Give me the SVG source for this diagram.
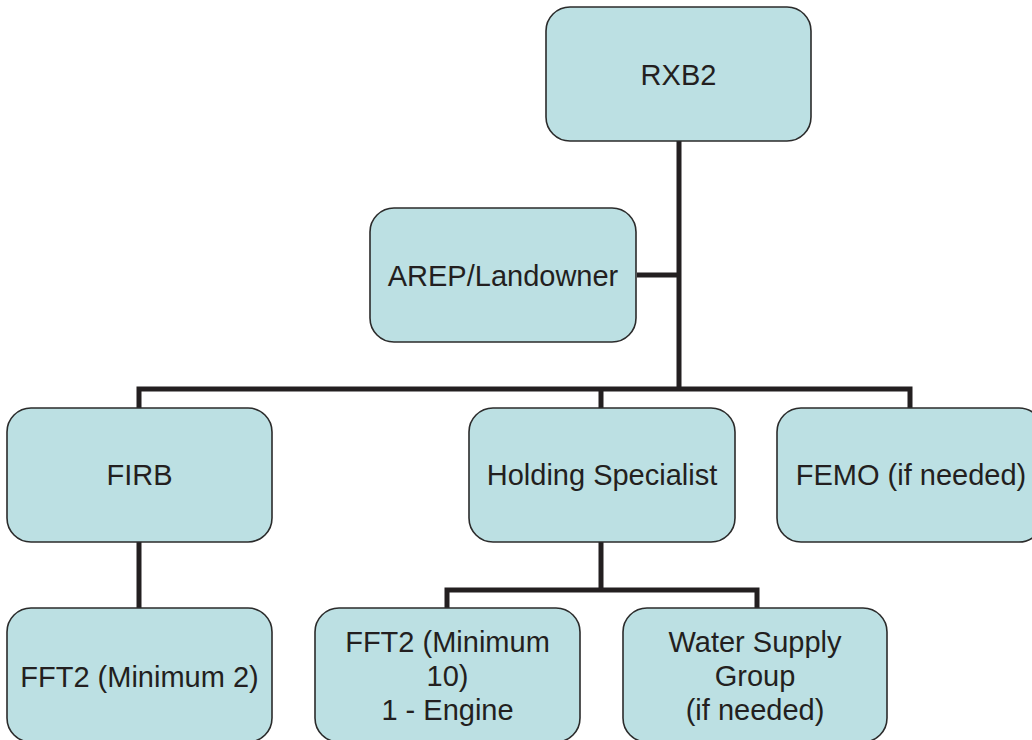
<svg xmlns="http://www.w3.org/2000/svg" width="1032" height="740" viewBox="0 0 1032 740">
<style>
.box{fill:#bce0e3;stroke:#2b2b2b;stroke-width:1.6}
.t{font-family:"Liberation Sans",Arial,sans-serif;font-size:29px;fill:#231f20;text-anchor:middle;dominant-baseline:central}
.c{fill:none;stroke:#231f20;stroke-width:5;stroke-linejoin:miter;stroke-linecap:butt}
</style>
<rect width="1032" height="740" fill="#fff"/>
<g id="connectors">
<path class="c" d="M679,141 V389"/>
<path class="c" d="M637,275 H679"/>
<path class="c" d="M139,408 V389 H910 V408"/>
<path class="c" d="M601,389 V408"/>
<path class="c" d="M139,542 V608"/>
<path class="c" d="M601,542 V590"/>
<path class="c" d="M447,608 V590 H757 V608"/>
</g>
<g id="rxb2"><rect class="box" x="546" y="7" width="265" height="134" rx="24"/><text class="t" x="678.5" y="75">RXB2</text></g>
<g id="arep"><rect class="box" x="370" y="208" width="266" height="134" rx="24"/><text class="t" x="503" y="276">AREP/Landowner</text></g>
<g id="firb"><rect class="box" x="7" y="408" width="265" height="134" rx="24"/><text class="t" x="139.5" y="475">FIRB</text></g>
<g id="holding"><rect class="box" x="469" y="408" width="266" height="134" rx="24"/><text class="t" x="602" y="475">Holding Specialist</text></g>
<g id="femo"><rect class="box" x="777" y="408" width="266" height="134" rx="24"/><text class="t" x="911" y="475">FEMO (if needed)</text></g>
<g id="fft2a"><rect class="box" x="7" y="608" width="265" height="134" rx="24"/><text class="t" x="139.5" y="677">FFT2 (Minimum 2)</text></g>
<g id="fft2b"><rect class="box" x="315" y="608" width="265" height="134" rx="24"/><text class="t" x="447.5" y="642">FFT2 (Minimum</text><text class="t" x="447.5" y="676">10)</text><text class="t" x="447.5" y="710">1 - Engine</text></g>
<g id="water"><rect class="box" x="623" y="608" width="264" height="134" rx="24"/><text class="t" x="755" y="642">Water Supply</text><text class="t" x="755" y="676">Group</text><text class="t" x="755" y="710">(if needed)</text></g>
</svg>
